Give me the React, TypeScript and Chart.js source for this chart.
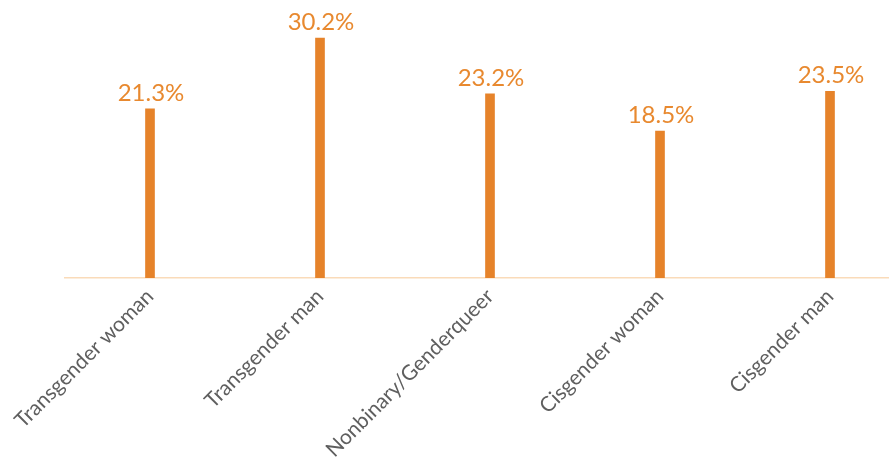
import React, { useEffect, useRef } from "react";
import { Chart, registerables } from "chart.js";

Chart.register(...registerables);

const categories = [
  "Transgender woman",
  "Transgender man",
  "Nonbinary/Genderqueer",
  "Cisgender woman",
  "Cisgender man",
];
const values = [21.3, 30.2, 23.2, 18.5, 23.5];

const FONT = "Lato, 'Open Sans', sans-serif";

const valueLabels = {
  id: "valueLabels",
  afterDatasetsDraw(chart: any) {
    const ctx = chart.ctx;
    const meta = chart.getDatasetMeta(0);
    ctx.save();
    ctx.fillStyle = "#E8892F";
    ctx.font = `24px ${FONT}`;
    ctx.textAlign = "center";
    ctx.textBaseline = "alphabetic";
    meta.data.forEach((bar: any, i: number) => {
      ctx.fillText(values[i].toFixed(1) + "%", bar.x + 1, bar.y - 8);
    });
    ctx.restore();
  },
};

export default function App() {
  const ref = useRef<HTMLCanvasElement>(null);
  useEffect(() => {
    document.body.style.margin = "0";
    const chart = new Chart(ref.current!, {
      type: "bar",
      data: {
        labels: categories,
        datasets: [
          {
            data: values,
            backgroundColor: "#E6832A",
            barThickness: 9,
          },
        ],
      },
      options: {
        animation: false,
        responsive: false,
        layout: { padding: { left: 65, top: 0, right: 0, bottom: 0 } },
        plugins: { legend: { display: false }, tooltip: { enabled: false } },
        scales: {
          x: {
            grid: { display: false, drawTicks: false },
            border: { display: true, color: "#FADBB9", width: 1.5 },
            ticks: {
              autoSkip: false,
              minRotation: 45,
              maxRotation: 45,
              color: "#5F5F5F",
              font: { family: FONT, size: 21 },
              padding: 6,
            },
            afterFit: (scale: any) => {
              scale.height = 191;
            },
          },
          y: {
            display: false,
            min: 0,
            max: 35,
          },
        },
      },
      plugins: [valueLabels],
    });
    return () => chart.destroy();
  }, []);
  return (
    <div style={{ position: "absolute", left: 0, top: 0, width: 889, height: 469, overflow: "hidden" }}>
      <canvas ref={ref} width={915} height={469} style={{ display: "block" }} />
    </div>
  );
}
